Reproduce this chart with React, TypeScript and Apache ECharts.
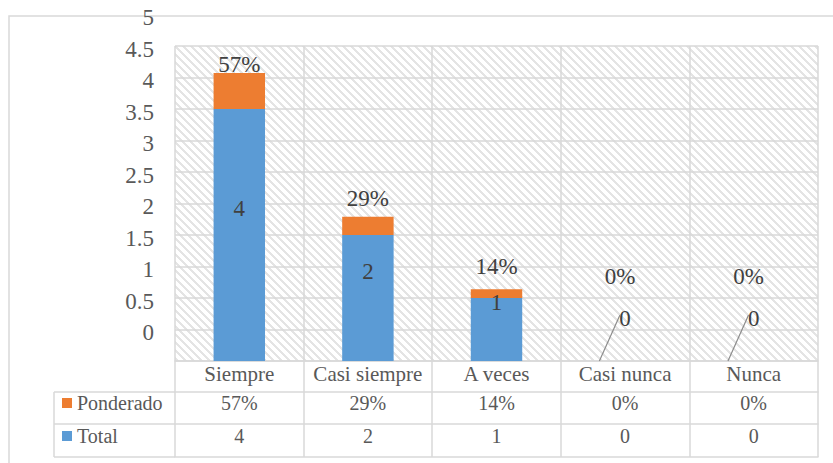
import React, { useEffect, useRef } from "react";
import * as echarts from "echarts";

const CATEGORIES = ["Siempre", "Casi siempre", "A veces", "Casi nunca", "Nunca"];
const TOTAL = [4, 2, 1, 0, 0];
const PONDERADO = [0.57, 0.29, 0.14, 0, 0];
const SERIES_NAMES = ["Ponderado", "Total"];
const Y_MIN = 0;
const Y_MAX = 5;
const Y_INTERVAL = 0.5;

const pct = (v: number) => Math.round(v * 100) + "%";

const FONT = "'Liberation Serif', 'Times New Roman', 'DejaVu Serif', serif";
const GRID_COLOR = "#d9d9d9";
const BLUE = "#5B9BD5";
const ORANGE = "#ED7D31";

const GRID = { left: 175, top: 46, width: 643, height: 315 };
const TABLE_LEFT = 54;
const ROW_H = [31, 32, 33];

function makeHatch(): string {
  const c = document.createElement("canvas");
  c.width = 8;
  c.height = 8;
  const ctx = c.getContext("2d")!;
  const img = ctx.createImageData(8, 8);
  for (let y = 0; y < 8; y++) {
    for (let x = 0; x < 8; x++) {
      const k = (((x - y) % 8) + 8) % 8;
      const g = k < 3 ? 228 : 255;
      const i = (y * 8 + x) * 4;
      img.data[i] = g;
      img.data[i + 1] = g;
      img.data[i + 2] = g;
      img.data[i + 3] = 255;
    }
  }
  ctx.putImageData(img, 0, 0);
  return c.toDataURL();
}

export default function App() {
  const ref = useRef<HTMLDivElement>(null);
  useEffect(() => {
    if (!ref.current) return;
    const chart = echarts.init(ref.current, null, { renderer: "svg" });
    const bottom = GRID.top + GRID.height;
    const r1 = bottom + ROW_H[0];
    const r2 = r1 + ROW_H[1];
    const r3 = r2 + ROW_H[2];
    const lineStyle = { stroke: GRID_COLOR, lineWidth: 1.5 };
    const tableText = { fontFamily: FONT, fontSize: 21, color: "#595959" };
    const axisText = { fontFamily: FONT, fontSize: 23, color: "#595959" };
    const dataLabel = { fontFamily: FONT, fontSize: 23, color: "#404040" };
    const axisLineStyle = { color: GRID_COLOR, width: 1.5 };

    chart.setOption({
      animation: false,
      backgroundColor: "#ffffff",
      textStyle: { fontFamily: FONT },
      grid: {
        ...GRID,
        show: true,
        borderWidth: 0,
        backgroundColor: {
          image: makeHatch(),
          repeat: "repeat",
          imageWidth: 8,
          imageHeight: 8,
        } as any,
      },
      legend: {
        data: SERIES_NAMES,
        orient: "vertical",
        left: 57,
        top: 388,
        icon: "rect",
        itemWidth: 10,
        itemHeight: 10,
        itemGap: 13,
        textStyle: { ...tableText, fontSize: 20, padding: [0, 0, 8, 0] },
        selectedMode: false,
      },
      xAxis: [
        {
          type: "category",
          data: CATEGORIES,
          axisLine: { show: true, lineStyle: axisLineStyle },
          axisTick: { show: true, length: r3 - bottom, interval: 0, lineStyle: axisLineStyle },
          splitLine: { show: true, interval: 0, lineStyle: axisLineStyle },
          axisLabel: { ...tableText, margin: 2, interval: 0 },
        },
        {
          type: "category",
          data: PONDERADO.map(pct),
          position: "bottom",
          offset: ROW_H[0],
          axisLine: { show: true, lineStyle: axisLineStyle },
          axisTick: { show: false },
          axisLabel: { ...tableText, fontSize: 20, margin: 1, interval: 0 },
        },
        {
          type: "category",
          data: TOTAL.map(String),
          position: "bottom",
          offset: ROW_H[0] + ROW_H[1],
          axisLine: { show: true, lineStyle: axisLineStyle },
          axisTick: { show: false },
          axisLabel: { ...tableText, fontSize: 20, margin: 2, interval: 0 },
        },
        {
          type: "category",
          data: CATEGORIES.map(() => ""),
          position: "bottom",
          offset: ROW_H[0] + ROW_H[1] + ROW_H[2],
          axisLine: { show: true, lineStyle: axisLineStyle },
          axisTick: { show: false },
          axisLabel: { show: false },
        },
      ],
      yAxis: {
        type: "value",
        min: Y_MIN,
        max: Y_MAX,
        interval: Y_INTERVAL,
        axisLine: { show: false },
        axisTick: { show: false },
        splitLine: { show: true, lineStyle: axisLineStyle },
        axisLabel: {
          margin: 21,
          formatter: (v: number) => "{a|" + v + "}",
          rich: {
            a: { ...axisText, padding: [0, 0, 57, 0] },
          },
        },
      },
      series: [
        {
          name: "Total",
          type: "bar",
          stack: "s",
          barWidth: "40%",
          data: TOTAL,
          itemStyle: { color: BLUE },
          label: {
            show: true,
            position: "inside",
            ...dataLabel,
          },
          labelLayout: (p: any) => ({ dy: TOTAL[p.dataIndex] === 0 ? -43 : -27 }),
        },
        {
          name: "Ponderado",
          type: "bar",
          stack: "s",
          barWidth: "40%",
          data: PONDERADO,
          itemStyle: { color: ORANGE },
          label: {
            show: true,
            position: "inside",
            formatter: (p: any) => pct(p.value),
            ...dataLabel,
          },
          labelLayout: (p: any) =>
            PONDERADO[p.dataIndex] === 0 ? { dy: -85, dx: -5 } : { dy: -27 },
        },
        {
          name: "leader",
          type: "custom",
          silent: true,
          z: 5,
          data: TOTAL.map((v, i) => [i, v]).filter((d) => d[1] === 0),
          renderItem: (params: any, api: any) => {
            const p = api.coord([api.value(0), api.value(1)]);
            const bw = api.size([1, 0])[0];
            return {
              type: "line",
              shape: { x1: p[0] - bw * 0.2, y1: p[1], x2: p[0] - bw * 0.04, y2: p[1] - 46 },
              style: { stroke: "#8c8c8c", lineWidth: 1.2 },
            };
          },
        },
      ],
      graphic: [
        { type: "rect", shape: { x: 9, y: 16, width: 900, height: 600 }, style: { fill: "none", stroke: GRID_COLOR, lineWidth: 1.5 }, z: -10, silent: true },
        { type: "line", shape: { x1: TABLE_LEFT, y1: r1, x2: GRID.left, y2: r1 }, style: lineStyle, silent: true },
        { type: "line", shape: { x1: TABLE_LEFT, y1: r2, x2: GRID.left, y2: r2 }, style: lineStyle, silent: true },
        { type: "line", shape: { x1: TABLE_LEFT, y1: r3, x2: GRID.left, y2: r3 }, style: lineStyle, silent: true },
        { type: "line", shape: { x1: TABLE_LEFT, y1: r1, x2: TABLE_LEFT, y2: r3 }, style: lineStyle, silent: true },
      ],
    });
    return () => chart.dispose();
  }, []);
  return (
    <div
      ref={ref}
      style={{ position: "absolute", left: 0, top: 0, width: 833, height: 463 }}
    />
  );
}
